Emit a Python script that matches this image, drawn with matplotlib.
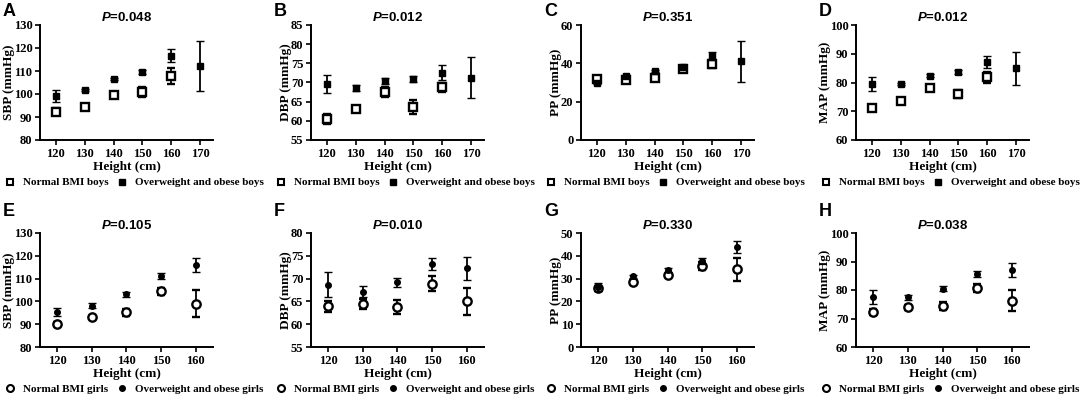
import numpy as np
import matplotlib
matplotlib.use('Agg')
import matplotlib.pyplot as plt
from matplotlib.lines import Line2D

plt.rcParams['mathtext.fontset'] = 'custom'
plt.rcParams['mathtext.rm'] = 'Liberation Sans:bold'
plt.rcParams['mathtext.bfit'] = 'Liberation Sans:italic:bold'
plt.rcParams['mathtext.it'] = 'Liberation Sans:italic:bold'

# heights (cm)
h_boys = [120, 130, 140, 150, 160, 170]
h_girls = [120, 130, 140, 150, 160]

# boys: mean and error, normal BMI (no 170 group) / overweight and obese
sbp_bn = [92.3, 94.5, 99.6, 100.9, 108.0, np.nan]
sbp_bn_e = [1.5, 0.6, 0.6, 2.0, 3.5, np.nan]
sbp_bo = [99.1, 101.8, 106.5, 109.5, 116.7, 112.3]
sbp_bo_e = [2.5, 0.5, 0.5, 1.0, 3.0, 10.8]

dbp_bn = [60.5, 63.1, 67.4, 63.7, 68.7, np.nan]
dbp_bn_e = [1.3, 0.5, 1.3, 1.8, 1.2, np.nan]
dbp_bo = [69.6, 68.6, 70.3, 70.9, 72.6, 71.3]
dbp_bo_e = [2.3, 0.7, 0.8, 0.8, 2.0, 5.3]

pp_bn = [31.8, 31.2, 32.2, 37.0, 39.5, np.nan]
pp_bn_e = [0.6, 0.6, 0.6, 1.5, 2.0, np.nan]
pp_bo = [29.8, 33.3, 36.2, 38.3, 44.0, 41.0]
pp_bo_e = [0.5, 0.5, 0.5, 0.7, 2.0, 10.8]

map_bn = [71.1, 73.6, 78.0, 76.0, 81.8, np.nan]
map_bn_e = [1.0, 0.5, 1.0, 1.5, 2.0, np.nan]
map_bo = [79.5, 79.6, 82.4, 83.8, 87.2, 85.0]
map_bo_e = [2.3, 0.4, 0.4, 0.7, 2.0, 5.7]

# girls
sbp_gn = [90.0, 93.0, 95.3, 104.4, 99.0]
sbp_gn_e = [1.0, 0.8, 1.5, 1.5, 5.9]
sbp_go = [95.3, 98.1, 103.1, 111.1, 116.1]
sbp_go_e = [1.8, 1.0, 1.0, 1.3, 3.0]

dbp_gn = [63.9, 64.4, 63.8, 68.9, 65.0]
dbp_gn_e = [1.25, 1.1, 1.6, 1.7, 2.9]
dbp_go = [68.7, 67.1, 69.2, 73.2, 72.3]
dbp_go_e = [2.7, 1.2, 1.0, 1.3, 2.5]

pp_gn = [25.7, 28.6, 31.4, 35.4, 34.0]
pp_gn_e = [1.0, 0.8, 0.8, 1.8, 5.0]
pp_go = [26.4, 31.0, 33.9, 37.9, 43.9]
pp_go_e = [1.8, 0.7, 0.8, 1.3, 2.7]

map_gn = [72.3, 73.9, 74.3, 80.6, 76.2]
map_gn_e = [1.0, 0.8, 1.4, 1.4, 3.7]
map_go = [77.6, 77.5, 80.5, 85.6, 86.9]
map_go_e = [2.4, 0.9, 0.8, 1.2, 2.4]

panels = [
    ('A', 'SBP (mmHg)', '0.048', h_boys, sbp_bn, sbp_bn_e, sbp_bo, sbp_bo_e, (80, 130), 10, 'boys'),
    ('B', 'DBP (mmHg)', '0.012', h_boys, dbp_bn, dbp_bn_e, dbp_bo, dbp_bo_e, (55, 85), 5, 'boys'),
    ('C', 'PP (mmHg)', '0.351', h_boys, pp_bn, pp_bn_e, pp_bo, pp_bo_e, (0, 60), 20, 'boys'),
    ('D', 'MAP (mmHg)', '0.012', h_boys, map_bn, map_bn_e, map_bo, map_bo_e, (60, 100), 10, 'boys'),
    ('E', 'SBP (mmHg)', '0.105', h_girls, sbp_gn, sbp_gn_e, sbp_go, sbp_go_e, (80, 130), 10, 'girls'),
    ('F', 'DBP (mmHg)', '0.010', h_girls, dbp_gn, dbp_gn_e, dbp_go, dbp_go_e, (55, 80), 5, 'girls'),
    ('G', 'PP (mmHg)', '0.330', h_girls, pp_gn, pp_gn_e, pp_go, pp_go_e, (0, 50), 10, 'girls'),
    ('H', 'MAP (mmHg)', '0.038', h_girls, map_gn, map_gn_e, map_go, map_go_e, (60, 100), 10, 'girls'),
]

W, H = 1084, 399
fig = plt.figure(figsize=(W/100, H/100), dpi=100)

lefts = [40, 311, 581, 856]
tops = [25, 233]
bottoms = [140, 347]
letter_y = [11, 211]
aw = 173

serif = 'Liberation Serif'
for i, (let, ylab, pval, hx, yn, en, yo, eo, ylim, step, sex) in enumerate(panels):
    r, c = divmod(i, 4)
    l = lefts[c]
    ax = fig.add_axes([l/W, 1 - bottoms[r]/H, aw/W, (bottoms[r]-tops[r])/H])
    mk = 's' if sex == 'boys' else 'o'
    ax.errorbar(hx, yn, yerr=en, fmt=mk, color='black', mfc='white', mec='black',
                ms=6, mew=1.7, elinewidth=1.3, capsize=3, capthick=1.3, zorder=3)
    ax.errorbar(hx, yo, yerr=eo, fmt=mk, color='black', mfc='black', mec='black',
                ms=4.5 if sex == 'boys' else 4, mew=1, elinewidth=1.3, capsize=3, capthick=1.3, zorder=4)
    if sex == 'boys':
        ax.set_xlim(114.5, 174.5)
    else:
        ax.set_xlim(115, 165)
    ax.set_xticks(hx)
    ax.set_ylim(*ylim)
    ax.set_yticks(np.arange(ylim[0], ylim[1] + 0.1, step))
    for s in ['top', 'right']:
        ax.spines[s].set_visible(False)
    for s in ['left', 'bottom']:
        ax.spines[s].set_linewidth(1.4)
    ax.tick_params(width=1.2, length=3.5, pad=2)
    for lab in ax.get_xticklabels() + ax.get_yticklabels():
        lab.set_fontfamily(serif)
        lab.set_fontweight('bold')
        lab.set_fontsize(9)
    ax.set_ylabel(ylab, fontfamily=serif, fontweight='bold', fontsize=9.5, labelpad=-1)
    ax.set_xlabel('Height (cm)', fontfamily=serif, fontweight='bold', fontsize=9.5, labelpad=1)
    ax.set_title(r'$\mathbfit{P}$=' + pval, fontfamily='Liberation Sans', fontweight='bold',
                 fontsize=9.5, pad=3)
    fig.text((l - 37)/W, 1 - letter_y[r]/H, let,
             fontfamily='Liberation Sans', fontweight='bold', fontsize=13,
             va='center', ha='left')
    handles = [Line2D([], [], ls='none', marker=mk, mfc='white', mec='black', ms=5, mew=1.5),
               Line2D([], [], ls='none', marker=mk, mfc='black', mec='black', ms=4)]
    labels = ['Normal BMI ' + sex, 'Overweight and obese ' + sex]
    ax.legend(handles, labels, loc='center', bbox_to_anchor=(0.55, -0.37), ncol=2,
              frameon=False, prop={'family': serif, 'weight': 'bold', 'size': 8},
              handletextpad=0.9, columnspacing=0.9, handlelength=0.6, borderpad=0)

plt.savefig('out.png', dpi=100)
